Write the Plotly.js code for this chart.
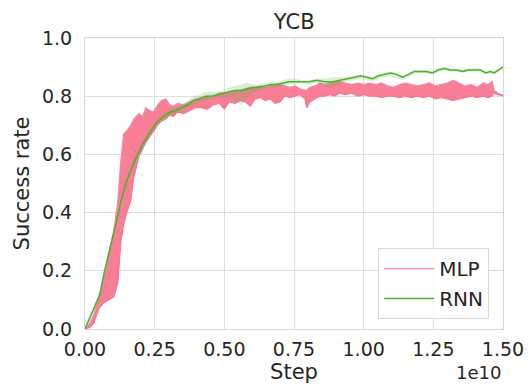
<!DOCTYPE html>
<html>
<head>
<meta charset="utf-8">
<script src="https://cdn.plot.ly/plotly-3.0.1.min.js"></script>
<style>html,body{margin:0;padding:0;background:#fff;}#chart{width:532px;height:388px;}</style>
</head>
<body>
<div id="chart"></div>
<script>
// Step values in units of 1e10
const mlpX = [0.000,0.018,0.032,0.050,0.068,0.086,0.104,0.118,0.129,0.139,0.150,0.164,0.175,0.193,0.207,0.218,0.232,0.246,0.261,0.275,0.289,0.304,0.318,0.332,0.354,0.375,0.396,0.418,0.439,0.461,0.482,0.500,0.518,0.539,0.557,0.575,0.593,0.611,0.629,0.646,0.664,0.682,0.700,0.718,0.736,0.754,0.771,0.789,0.796,0.807,0.825,0.843,0.861,0.879,0.896,0.914,0.936,0.957,0.979,1.000,1.021,1.043,1.064,1.086,1.107,1.129,1.150,1.171,1.193,1.214,1.236,1.257,1.279,1.300,1.321,1.343,1.364,1.386,1.407,1.429,1.446,1.461,1.468,1.482,1.493,1.500];
const mlpHi = [0.000,0.020,0.050,0.110,0.180,0.260,0.340,0.440,0.580,0.670,0.680,0.700,0.720,0.740,0.730,0.760,0.750,0.745,0.770,0.785,0.790,0.770,0.765,0.775,0.770,0.780,0.790,0.795,0.800,0.800,0.810,0.810,0.815,0.820,0.820,0.825,0.830,0.830,0.835,0.830,0.835,0.840,0.840,0.835,0.830,0.835,0.825,0.820,0.820,0.830,0.835,0.845,0.840,0.845,0.850,0.850,0.845,0.840,0.845,0.840,0.845,0.840,0.845,0.835,0.830,0.840,0.845,0.840,0.835,0.840,0.845,0.835,0.840,0.845,0.855,0.845,0.835,0.840,0.830,0.845,0.840,0.850,0.820,0.810,0.805,0.805];
const mlpLo = [0.000,0.005,0.020,0.070,0.090,0.100,0.110,0.160,0.300,0.360,0.400,0.440,0.520,0.590,0.620,0.640,0.660,0.680,0.700,0.715,0.720,0.735,0.730,0.745,0.740,0.750,0.760,0.760,0.755,0.770,0.775,0.755,0.780,0.775,0.785,0.780,0.765,0.790,0.795,0.785,0.790,0.775,0.780,0.800,0.795,0.800,0.805,0.790,0.760,0.780,0.790,0.800,0.800,0.805,0.800,0.810,0.805,0.810,0.800,0.805,0.800,0.800,0.795,0.800,0.800,0.795,0.800,0.795,0.800,0.795,0.800,0.790,0.795,0.790,0.785,0.790,0.795,0.800,0.795,0.800,0.795,0.800,0.810,0.805,0.800,0.800];

const rnnX = [0.000,0.018,0.032,0.054,0.068,0.086,0.104,0.118,0.129,0.150,0.175,0.204,0.236,0.257,0.282,0.304,0.325,0.346,0.368,0.389,0.411,0.432,0.454,0.475,0.496,0.518,0.539,0.561,0.582,0.604,0.625,0.646,0.668,0.689,0.711,0.732,0.754,0.775,0.804,0.832,0.861,0.889,0.918,0.946,0.968,0.989,1.011,1.032,1.054,1.075,1.096,1.118,1.139,1.161,1.182,1.204,1.225,1.246,1.268,1.289,1.311,1.332,1.354,1.375,1.396,1.418,1.439,1.454,1.468,1.486,1.500];
const rnnY = [0.000,0.040,0.070,0.120,0.190,0.260,0.330,0.390,0.440,0.510,0.570,0.630,0.680,0.710,0.730,0.745,0.750,0.760,0.770,0.785,0.790,0.800,0.800,0.805,0.810,0.815,0.820,0.820,0.825,0.830,0.830,0.835,0.840,0.840,0.845,0.850,0.850,0.850,0.850,0.855,0.850,0.850,0.855,0.860,0.865,0.870,0.865,0.860,0.870,0.875,0.880,0.875,0.865,0.875,0.885,0.885,0.885,0.880,0.890,0.895,0.890,0.890,0.885,0.890,0.890,0.890,0.880,0.885,0.880,0.890,0.900];
const rnnHi = [0.005,0.050,0.080,0.130,0.200,0.270,0.340,0.400,0.450,0.520,0.580,0.640,0.690,0.720,0.740,0.755,0.760,0.770,0.785,0.800,0.805,0.815,0.815,0.815,0.820,0.830,0.835,0.840,0.845,0.840,0.840,0.845,0.850,0.850,0.855,0.860,0.860,0.855,0.855,0.860,0.860,0.865,0.865,0.865,0.870,0.875,0.870,0.865,0.875,0.880,0.885,0.880,0.870,0.880,0.890,0.890,0.890,0.885,0.895,0.900,0.895,0.895,0.890,0.895,0.895,0.895,0.885,0.890,0.885,0.895,0.905];
const rnnLo = [0.000,0.030,0.060,0.110,0.180,0.250,0.320,0.380,0.430,0.500,0.560,0.620,0.670,0.700,0.720,0.735,0.740,0.745,0.760,0.770,0.775,0.785,0.790,0.795,0.795,0.800,0.785,0.770,0.790,0.815,0.820,0.825,0.830,0.830,0.835,0.840,0.840,0.845,0.840,0.845,0.835,0.830,0.845,0.850,0.855,0.860,0.855,0.850,0.860,0.865,0.870,0.860,0.855,0.865,0.880,0.880,0.880,0.875,0.885,0.890,0.885,0.885,0.880,0.885,0.885,0.885,0.875,0.880,0.875,0.885,0.895];

const xTicks = [0, 0.25, 0.5, 0.75, 1.0, 1.25, 1.5];
const xTickText = ["0.00","0.25","0.50","0.75","1.00","1.25","1.50"];
const yTicks = [0, 0.2, 0.4, 0.6, 0.8, 1.0];
const yTickText = ["0.0","0.2","0.4","0.6","0.8","1.0"];

const pink = '#f77189';
const green = '#50b131';
const FONT = 'DejaVu Sans, sans-serif';
const TXT = '#262626';

const traces = [
  {x: mlpX, y: mlpHi, type: 'scatter', mode: 'lines', name: 'MLP', legendgroup: 'a',
   line: {color: '#f28aa0', width: 1.4}, showlegend: true, hoverinfo: 'skip'},
  {x: mlpX, y: mlpLo, type: 'scatter', mode: 'lines', name: 'MLP band', legendgroup: 'a',
   line: {color: pink, width: 1}, fill: 'tonexty', fillcolor: 'rgba(247,113,137,0.9)', showlegend: false, hoverinfo: 'skip'},
  {x: rnnX, y: rnnHi, type: 'scatter', mode: 'lines', name: 'RNN hi', legendgroup: 'b',
   line: {color: 'rgba(0,0,0,0)', width: 0}, showlegend: false, hoverinfo: 'skip'},
  {x: rnnX, y: rnnLo, type: 'scatter', mode: 'lines', name: 'RNN lo', legendgroup: 'b',
   line: {color: 'rgba(0,0,0,0)', width: 0}, fill: 'tonexty', fillcolor: 'rgba(80,177,49,0.22)', showlegend: false, hoverinfo: 'skip'},
  {x: rnnX, y: rnnY, type: 'scatter', mode: 'lines', name: 'RNN', legendgroup: 'b',
   line: {color: green, width: 1.5}, showlegend: true}
];

const layout = {
  width: 532, height: 388,
  margin: {l: 85, r: 29, t: 38, b: 59},
  paper_bgcolor: '#ffffff', plot_bgcolor: '#ffffff',
  font: {family: FONT, color: TXT, size: 19},
  title: {text: 'YCB', font: {family: FONT, size: 21, color: TXT}, x: 0.553, xanchor: 'center', y: 0.943, yanchor: 'middle', yref: 'container'},
  xaxis: {
    range: [0, 1.5], tickvals: xTicks, ticktext: xTickText,
    showgrid: true, gridcolor: '#dedede', gridwidth: 1,
    zeroline: false, showline: true, mirror: true, linecolor: '#d6d6d6', linewidth: 1,
    ticks: 'outside', ticklen: 3, tickcolor: 'rgba(0,0,0,0)',
    tickfont: {family: FONT, size: 19, color: TXT},
    title: {text: 'Step', font: {family: FONT, size: 21, color: TXT}, standoff: 2}
  },
  yaxis: {
    range: [0, 1], tickvals: yTicks, ticktext: yTickText,
    showgrid: true, gridcolor: '#dedede', gridwidth: 1,
    zeroline: false, showline: true, mirror: true, linecolor: '#d6d6d6', linewidth: 1,
    ticks: 'outside', ticklen: 8, tickcolor: 'rgba(0,0,0,0)',
    tickfont: {family: FONT, size: 19, color: TXT},
    title: {text: 'Success rate', font: {family: FONT, size: 21, color: TXT}, standoff: 6}
  },
  legend: {
    x: 0.967, xanchor: 'right', y: 0.034, yanchor: 'bottom',
    traceorder: 'grouped',
    bgcolor: 'rgba(255,255,255,0.85)', bordercolor: '#d9d9d9', borderwidth: 1,
    font: {family: FONT, size: 20, color: TXT},
    itemwidth: 50,
    tracegroupgap: 1
  },
  annotations: [
    {text: '1e10', xref: 'paper', yref: 'paper', x: 1.0, xanchor: 'right', y: -0.148, yanchor: 'middle',
     showarrow: false, font: {family: FONT, size: 18, color: TXT}}
  ],
  showlegend: true
};

Plotly.newPlot('chart', traces, layout, {displayModeBar: false, staticPlot: true});
</script>
</body>
</html>
